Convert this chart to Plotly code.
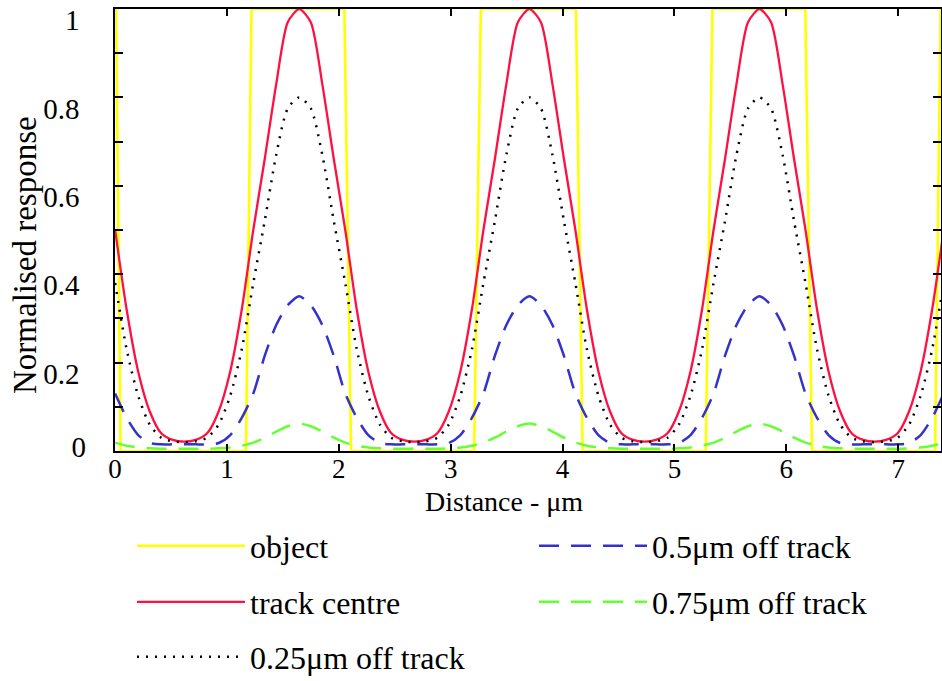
import plotly.graph_objects as go

# ---- data ----
x_pos = [0.001, 0.104, 0.207, 0.310, 0.413, 0.516, 0.619, 0.721, 0.824, 0.927,
         1.030, 1.133, 1.236, 1.338, 1.441, 1.544, 1.647, 1.750, 1.853, 1.956,
         2.058, 2.161, 2.264, 2.367, 2.470, 2.573, 2.676, 2.778, 2.881, 2.984,
         3.087, 3.190, 3.293, 3.395, 3.498, 3.601, 3.704, 3.807, 3.910, 4.013,
         4.115, 4.218, 4.321, 4.424, 4.527, 4.630, 4.733, 4.835, 4.938, 5.041,
         5.144, 5.247, 5.350, 5.452, 5.555, 5.658, 5.761, 5.864, 5.967, 6.070,
         6.172, 6.275, 6.378, 6.481, 6.584, 6.687, 6.790, 6.892, 6.995, 7.098,
         7.201, 7.304, 7.407]

object_x = [0.0, 0.01, 0.05, 1.17, 1.22, 2.05, 2.11, 3.21, 3.27, 4.12, 4.18,
            5.28, 5.34, 6.17, 6.23, 7.33, 7.38]
object_y = [1, 1, 0, 0, 1, 1, 0, 0, 1, 1, 0, 0, 1, 1, 0, 0, 1]

track_centre = [0.50, 0.32, 0.18, 0.09, 0.04, 0.025, 0.021,
                0.025, 0.04, 0.09, 0.18, 0.32, 0.50, 0.66, 0.83, 0.97, 1.0,
                0.97, 0.83, 0.66, 0.50, 0.32, 0.18, 0.09, 0.04, 0.025, 0.021,
                0.025, 0.04, 0.09, 0.18, 0.32, 0.50, 0.66, 0.83, 0.97, 1.0,
                0.97, 0.83, 0.66, 0.50, 0.32, 0.18, 0.09, 0.04, 0.025, 0.021,
                0.025, 0.04, 0.09, 0.18, 0.32, 0.50, 0.66, 0.83, 0.97, 1.0,
                0.97, 0.83, 0.66, 0.50, 0.32, 0.18, 0.09, 0.04, 0.025, 0.021,
                0.025, 0.04, 0.09, 0.18, 0.32, 0.50]

off_025 = [0.38, 0.23, 0.125, 0.06, 0.03, 0.022, 0.02,
           0.022, 0.03, 0.06, 0.125, 0.23, 0.38, 0.52, 0.67, 0.775, 0.80,
           0.775, 0.67, 0.52, 0.38, 0.23, 0.125, 0.06, 0.03, 0.022, 0.02,
           0.022, 0.03, 0.06, 0.125, 0.23, 0.38, 0.52, 0.67, 0.775, 0.80,
           0.775, 0.67, 0.52, 0.38, 0.23, 0.125, 0.06, 0.03, 0.022, 0.02,
           0.022, 0.03, 0.06, 0.125, 0.23, 0.38, 0.52, 0.67, 0.775, 0.80,
           0.775, 0.67, 0.52, 0.38, 0.23, 0.125, 0.06, 0.03, 0.022, 0.02,
           0.022, 0.03, 0.06, 0.125, 0.23, 0.38]

off_050 = [0.13, 0.075, 0.036, 0.018, 0.015, 0.015, 0.015,
           0.015, 0.015, 0.018, 0.036, 0.075, 0.13, 0.215, 0.285, 0.33, 0.35,
           0.33, 0.285, 0.215, 0.13, 0.075, 0.036, 0.018, 0.015, 0.015, 0.015,
           0.015, 0.015, 0.018, 0.036, 0.075, 0.13, 0.215, 0.285, 0.33, 0.35,
           0.33, 0.285, 0.215, 0.13, 0.075, 0.036, 0.018, 0.015, 0.015, 0.015,
           0.015, 0.015, 0.018, 0.036, 0.075, 0.13, 0.215, 0.285, 0.33, 0.35,
           0.33, 0.285, 0.215, 0.13, 0.075, 0.036, 0.018, 0.015, 0.015, 0.015,
           0.015, 0.015, 0.018, 0.036, 0.075, 0.13]

off_075 = [0.019, 0.012, 0.008, 0.006, 0.005, 0.005, 0.005,
           0.005, 0.005, 0.006, 0.008, 0.012, 0.019, 0.030, 0.044, 0.056, 0.062,
           0.056, 0.044, 0.030, 0.019, 0.012, 0.008, 0.006, 0.005, 0.005, 0.005,
           0.005, 0.005, 0.006, 0.008, 0.012, 0.019, 0.030, 0.044, 0.056, 0.062,
           0.056, 0.044, 0.030, 0.019, 0.012, 0.008, 0.006, 0.005, 0.005, 0.005,
           0.005, 0.005, 0.006, 0.008, 0.012, 0.019, 0.030, 0.044, 0.056, 0.062,
           0.056, 0.044, 0.030, 0.019, 0.012, 0.008, 0.006, 0.005, 0.005, 0.005,
           0.005, 0.005, 0.006, 0.008, 0.012, 0.019]

x_tick_vals = [0, 1, 2, 3, 4, 5, 6, 7]
y_tick_vals = [0, 0.1, 0.2, 0.3, 0.4, 0.5, 0.6, 0.7, 0.8, 0.9, 1.0]
y_tick_text = ["", "", "0.2", "", "0.4", "", "0.6", "", "0.8", "", "1"]
zero_label = ["0"]

series_names = ["object", "track centre", "0.25\u03bcm off track",
                "0.5\u03bcm off track", "0.75\u03bcm off track"]

FONT = "Liberation Serif, Times New Roman, serif"

fig = go.Figure()
fig.add_trace(go.Scatter(x=object_x, y=object_y, mode="lines", name=series_names[0],
                         line=dict(color="#ffff00", width=2.6), legend="legend"))
fig.add_trace(go.Scatter(x=x_pos, y=track_centre, mode="lines", name=series_names[1],
                         line=dict(color="#ff1040", width=2.3, shape="spline", smoothing=0.7),
                         legend="legend2"))
fig.add_trace(go.Scatter(x=x_pos, y=off_025, mode="lines", name=series_names[2],
                         line=dict(color="#000000", width=2.5, dash="2px,7px",
                                   shape="spline", smoothing=0.7),
                         legend="legend3"))
fig.add_trace(go.Scatter(x=x_pos, y=off_050, mode="lines", name=series_names[3],
                         line=dict(color="#3333cc", width=2.5, dash="20px,12px",
                                   shape="spline", smoothing=0.7),
                         legend="legend4"))
fig.add_trace(go.Scatter(x=x_pos, y=off_075, mode="lines", name=series_names[4],
                         line=dict(color="#66ff33", width=2.5, dash="20px,12px",
                                   shape="spline", smoothing=0.7),
                         legend="legend5", yaxis="y2"))

W, H = 942, 681
PL, PR, PT, PB = 115, 941, 9, 451          # plot area in pixels
L, R, T, B = PL, W - PR, PT, H - PB
pw, ph = PR - PL, PB - PT


def px_x(p):
    return (p - PL) / pw


def px_y(p):
    return (PB - p) / ph


leg_common = dict(font=dict(family=FONT, size=32, color="#000"), bgcolor="rgba(0,0,0,0)",
                  itemwidth=108, xanchor="left", yanchor="middle", orientation="v")

fig.update_layout(
    width=W, height=H,
    margin=dict(l=L, r=R, t=T, b=B, autoexpand=False),
    paper_bgcolor="white", plot_bgcolor="white",
    font=dict(family=FONT, size=28, color="#000"),
    showlegend=True,
    legend=dict(x=px_x(132), y=px_y(546), **leg_common),
    legend2=dict(x=px_x(132), y=px_y(602), **leg_common),
    legend3=dict(x=px_x(132), y=px_y(657), **leg_common),
    legend4=dict(x=px_x(534), y=px_y(546), **leg_common),
    legend5=dict(x=px_x(534), y=px_y(602), **leg_common),
    xaxis=dict(range=[0, 7.383], tickvals=x_tick_vals, ticks="inside", ticklen=7,
               tickwidth=1.5, tickcolor="#000", showline=True, linecolor="#000",
               linewidth=1.5, mirror="ticks", showgrid=False, zeroline=False,
               ticklabelstandoff=-7, tickfont=dict(family=FONT, size=27)),
    yaxis=dict(range=[0, 1], tickvals=y_tick_vals, ticktext=y_tick_text, ticks="inside",
               ticklen=8, tickwidth=1.5, tickcolor="#000", showline=True,
               linecolor="#000", linewidth=1.5, mirror="ticks", showgrid=False,
               zeroline=False, ticklabelshift=11, ticklabelstandoff=28,
               tickfont=dict(family=FONT, size=29)),
    yaxis2=dict(range=[0, 1], overlaying="y", side="left", anchor="x",
                tickvals=[0], ticktext=zero_label, ticks="", showline=False,
                showgrid=False, zeroline=False, ticklabelshift=-4,
                ticklabelstandoff=28, tickfont=dict(family=FONT, size=29)),
    annotations=[
        dict(text="Distance - \u03bcm", xref="paper", yref="paper",
             x=px_x(504), y=px_y(501), xanchor="center", yanchor="middle",
             showarrow=False, font=dict(family=FONT, size=28)),
        dict(text="Normalised response", xref="paper", yref="paper",
             x=px_x(25), y=px_y(255), xanchor="center", yanchor="middle",
             textangle=-90, showarrow=False, font=dict(family=FONT, size=33)),
    ],
)

fig.write_html("out.html", config={"displayModeBar": False},
               post_script="document.body.style.margin='0px';")
